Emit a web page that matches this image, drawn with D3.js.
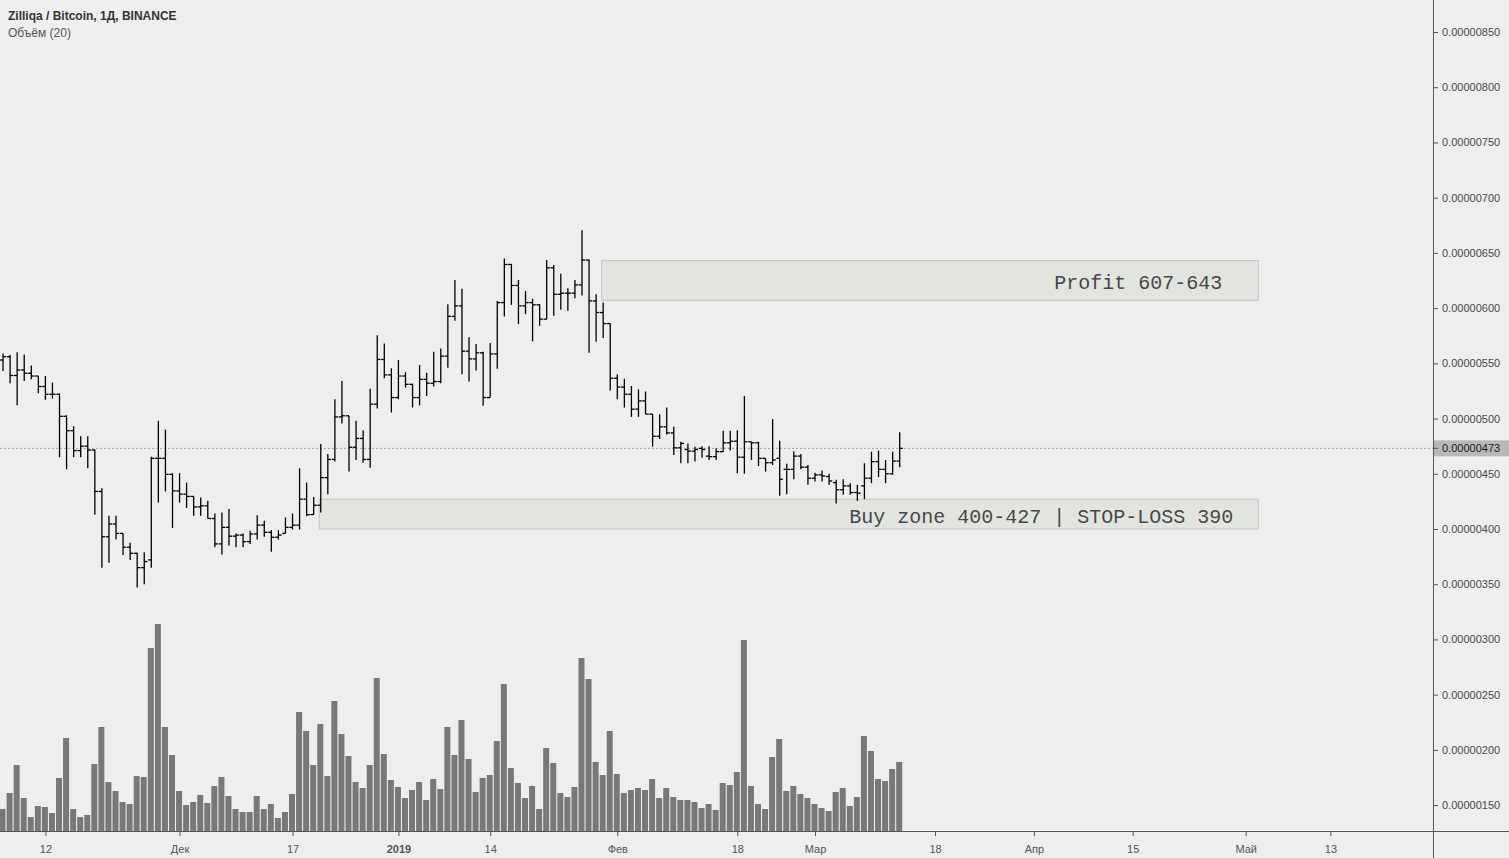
<!DOCTYPE html>
<html><head><meta charset="utf-8">
<script src="https://cdn.jsdelivr.net/npm/d3@7/dist/d3.min.js"></script>
<style>html,body{margin:0;padding:0;background:#eeeeee;overflow:hidden}</style>
</head><body><svg id="c" width="1509" height="858"></svg>
<script>
// ---- DATA (prices in units of 1e-8 BTC) ----
const firstDay = "2018-11-06";
const opens = [553,556,539,544,541,538.5,529,522,522,502,489,471,475,471.5,434,393,404.5,396,383.5,378,
365,372,464,464,449.5,434.5,431.5,429.5,420,421,409.5,386.5,401.5,393.5,394.5,388.5,395.5,403.5,397,392.5,
396,401.5,403.5,427,413,421.5,446.5,463,501.5,502.5,474,482,463,513,553.5,539.5,519,538.5,531,519,
535.5,532,533.5,556.5,592.5,602,561,554,559.5,519,558.5,605,639.5,620.5,602,605,603,590,636.5,612.5,
613.5,613.5,621,643.5,606.5,596,586,536.5,528.5,522,508.5,516,504,484,492.5,487,473.5,472,470.5,473,
466,465.5,470,478,479.5,465,479,478,464,460,464,454,454,466,456,446,449,447.5,442,435.5,
439,433,439,446,461,454,450,461.5];
const highs = [559,557.5,560,558,548,538.5,538.5,532.5,523,503,493,484,484,472,437,412,412,396,387.5,378.5,
379,465.5,498,490,450.5,450.5,442,429.5,428.5,425.5,414,415,418,396,396,398.5,412.5,407.5,399,399,
410.5,414,455,442,429,477,468,517.5,534,502.5,498,489.5,527,575.5,568,545.5,553,542,531.5,548.5,
541.5,560.5,563.5,603.5,625.5,617.5,573.5,567.5,560.5,568.5,606.5,645,640,625.5,615.5,608.5,603.5,643.5,639,631,
618,625.5,670.5,644,612.5,605,586,540,536,529.5,526.5,524.5,504,504,510,492.5,479,477.5,474.5,475,
475,473,489,489,489.5,520.5,479,479,464,499.5,480,459,470.5,468,458,451,453,450,444.5,445,
441.5,440,459.5,470,471,462.5,470,487.5];
const lows = [543,532,512,534,535.5,523,517,518,465,454,465,465,455,413,365,369.5,390.5,376.5,372,347,
350,365,424,434,401,424,419,412,412,409.5,383.5,377,385,383.5,383.5,386.5,390.5,393,379.5,390.5,
396,399.5,399.5,411.5,413,415,431.5,461,495.5,452,462.5,460,455.5,509,536.5,505.5,517.5,528,510,512,
520.5,529,532,546,588.5,540,533.5,543.5,511.5,519,545,592.5,603,585.5,594.5,570,584,590,593,598.5,
597.5,609,611.5,559.5,569.5,573,525.5,517.5,510,501.5,501.5,504,474.5,481.5,485.5,467,459.5,459.5,461,464.5,
462.5,462.5,470,471,450.5,450,462.5,457,452,458,430,431.5,445,454,440,443,443,440,423,431,
431,425.5,427,441.5,447,441.5,449,456];
const closes = [556,539,544,541,538.5,529,522,522,502,489,471,475,471.5,434,393,404.5,396,383.5,378,365,
370.5,464,464,449.5,434.5,431.5,429.5,420,421,409.5,386.5,401.5,393.5,394.5,388.5,395.5,403.5,397,392.5,394.5,
401.5,403.5,427,413,421.5,446.5,463,501.5,502.5,474,482,463,513,553.5,539.5,519,538.5,531,519,535.5,
532,533.5,556.5,592.5,602,561,554,559.5,519,558.5,605,639.5,620.5,602,605,603,590,636.5,612.5,613.5,
613.5,621,643.5,606.5,596,586,536.5,528.5,522,508.5,516,504,484,492.5,487,473.5,477.5,470.5,472,472,
465.5,470,478,479.5,465,479,478,464,460,462.5,445,454,466,456,446,449,448,443.5,435.5,439,
433,432.5,446,461,454,450,461.5,473];
const volumes = [22,38,66,33,14,25,24,18,53,93,22,14,16,67,104,49,40,29,27,55,
54,183,207,104,76,40,26,29,36,28,45,54,35,22,19,19,35,22,27,13,
19,37,119,100,66,107,55,130,97,75,49,43,66,153,77,51,44,33,41,49,
31,52,42,104,76,111,72,39,53,56,90,147,63,48,33,45,22,83,68,38,
34,44,173,152,69,56,100,57,38,41,43,41,52,33,43,34,31,31,29,23,
27,21,48,46,59,191,45,27,22,74,92,40,45,37,33,27,23,20,39,43,
25,34,95,80,52,50,62,69];
const priceTicks = [850,800,750,700,650,600,550,500,450,400,350,300,250,200,150];
const timeTickDates = ["2018-11-12","2018-12-01","2018-12-17","2019-01-01","2019-01-14","2019-02-01","2019-02-18","2019-03-01","2019-03-18","2019-04-01","2019-04-15","2019-05-01","2019-05-13"];
const timeTickLabels = ["12","Дек","17","2019","14","Фев","18","Мар","18","Апр","15","Май","13"];
const zoneLabels = ["Profit 607-643","Buy zone 400-427 | STOP-LOSS 390"];
const zoneStarts = ["2019-01-30","2018-12-21"];
const zoneEnds = ["2019-05-03","2019-05-03"];
const zoneLows = [607,400];
const zoneHighs = [643,427];
const lastPrice = 473;
const titleText = "Zilliqa / Bitcoin, 1Д, BINANCE";
const volumeTitle = "Объём (20)";

// ---- LAYOUT ----
const W = 1509, H = 858, axisX = 1433, axisY = 831;
const zoneShift = -1.5;
const zoneTextPad = [36, 25];
const parse = d3.utcParse("%Y-%m-%d");
const dates = opens.map((_, i) => d3.utcDay.offset(parse(firstDay), i));

const x = d3.scaleUtc().domain([parse("2018-11-12"), parse("2019-05-13")]).range([45.4, 1330.4]);
const y = d3.scaleLinear().domain([150, 850]).range([805.1, 32]);
const yVol = d3.scaleLinear().domain([0, d3.max(volumes)]).range([axisY, 624]);
const fmt = v => (v * 1e-8).toFixed(8);

const svg = d3.select("#c");
svg.append("rect").attr("width", W).attr("height", H).attr("fill", "#eeeeee");

// volume
svg.append("g").selectAll("rect").data(volumes).join("rect")
  .attr("x", (d, i) => x(dates[i]) - 3.5).attr("width", 6)
  .attr("y", d => yVol(d)).attr("height", d => axisY - yVol(d))
  .attr("fill", "#787878");

// last price dotted line
svg.append("line").attr("x1", 0).attr("x2", axisX).attr("y1", y(lastPrice)).attr("y2", y(lastPrice))
  .attr("stroke", "#a0a0a0").attr("stroke-dasharray", "2,2").attr("stroke-width", 1);

// zones
const zg = svg.append("g");
zoneLabels.forEach((lab, i) => {
  const x0 = x(parse(zoneStarts[i])) + zoneShift, x1 = x(parse(zoneEnds[i])) + zoneShift;
  const y0 = y(zoneHighs[i]), y1 = y(zoneLows[i]);
  zg.append("rect").attr("x", x0).attr("y", y0).attr("width", x1 - x0).attr("height", y1 - y0)
    .attr("fill", "rgba(222,226,218,0.72)").attr("stroke", "#c4c4c4").attr("stroke-width", 1);
});

// OHLC bars
const bg = svg.append("g").attr("stroke", "#000").attr("stroke-width", 1.3);
opens.forEach((o, i) => {
  const cx = x(dates[i]);
  bg.append("line").attr("x1", cx).attr("x2", cx).attr("y1", y(highs[i])).attr("y2", y(lows[i]));
  bg.append("line").attr("x1", cx - 3.2).attr("x2", cx).attr("y1", y(o)).attr("y2", y(o));
  bg.append("line").attr("x1", cx).attr("x2", cx + 3.2).attr("y1", y(closes[i])).attr("y2", y(closes[i]));
});

// zone texts
zoneLabels.forEach((lab, i) => {
  const x1 = x(parse(zoneEnds[i])) + zoneShift;
  const yc = (y(zoneHighs[i]) + y(zoneLows[i])) / 2;
  svg.append("text").attr("x", x1 - zoneTextPad[i]).attr("y", yc + 8.5)
    .attr("text-anchor", "end").attr("font-family", "'Liberation Mono', 'Courier New', monospace")
    .attr("font-size", 20).attr("fill", "#474747").text(lab);
});

// axes
const yAxis = d3.axisRight(y).tickValues(priceTicks).tickFormat(fmt).tickSize(5).tickPadding(4);
const gy = svg.append("g").attr("transform", `translate(${axisX},0)`).call(yAxis);
gy.select(".domain").remove();
gy.selectAll("line").attr("stroke", "#555");
gy.selectAll("text").attr("font-family", "'Liberation Sans', Arial, sans-serif").attr("font-size", 11).attr("fill", "#4a4a4a");

const xAxis = d3.axisBottom(x).tickValues(timeTickDates.map(parse))
  .tickFormat((d, i) => timeTickLabels[i]).tickSize(5).tickPadding(9);
const gx = svg.append("g").attr("transform", `translate(0,${axisY})`).call(xAxis);
gx.select(".domain").remove();
gx.selectAll("line").attr("stroke", "#555");
gx.selectAll("text").attr("font-family", "'Liberation Sans', Arial, sans-serif").attr("font-size", 11).attr("fill", "#555")
  .attr("font-weight", (d, i) => timeTickLabels[i] === "2019" ? "bold" : "normal");

svg.append("line").attr("x1", axisX + 0.5).attr("x2", axisX + 0.5).attr("y1", 0).attr("y2", H).attr("stroke", "#555");
svg.append("line").attr("x1", 0).attr("x2", W).attr("y1", axisY + 0.5).attr("y2", axisY + 0.5).attr("stroke", "#555");

// last price label
svg.append("rect").attr("x", axisX + 1).attr("y", y(lastPrice) - 8).attr("width", W - axisX - 1).attr("height", 16).attr("fill", "#b8b8b8");
svg.append("line").attr("x1", axisX).attr("x2", axisX + 5).attr("y1", y(lastPrice)).attr("y2", y(lastPrice)).attr("stroke", "#555");
svg.append("text").attr("x", axisX + 9).attr("y", y(lastPrice)).attr("dy", "0.32em")
  .attr("font-family", "'Liberation Sans', Arial, sans-serif").attr("font-size", 11).attr("fill", "#1a1a1a").text(fmt(lastPrice));

// titles
svg.append("text").attr("x", 8).attr("y", 20).attr("font-family", "'Liberation Sans', Arial, sans-serif")
  .attr("font-size", 12).attr("font-weight", "bold").attr("fill", "#333").text(titleText);
svg.append("text").attr("x", 8).attr("y", 37).attr("font-family", "'Liberation Sans', Arial, sans-serif")
  .attr("font-size", 12).attr("fill", "#555").text(volumeTitle);
</script></body></html>
